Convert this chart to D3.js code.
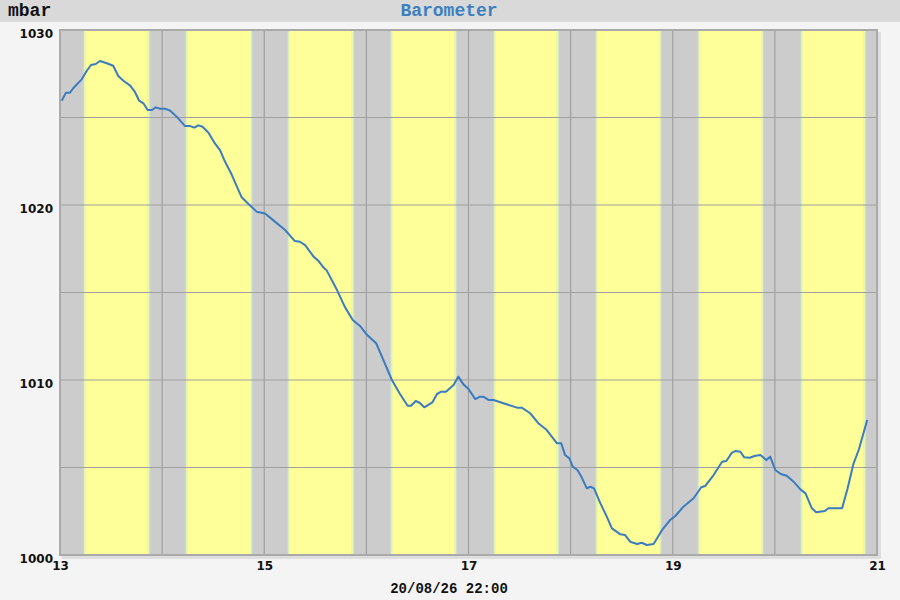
<!DOCTYPE html>
<html>
<head>
<meta charset="utf-8">
<script src="https://cdn.jsdelivr.net/npm/d3@7"></script>
<style>
  body { margin: 0; background: #f4f4f4; }
  svg { display: block; }
</style>
</head>
<body>
<svg id="chart" width="900" height="600"></svg>
<script>
// hours since 13th 00:00 and pressure readings
var hours = [0.4, 1.4, 2.35, 3.1, 5.1, 6.3, 7.3, 8.4, 9.4, 11.0, 12.5, 13.7, 14.9, 16.5, 17.6, 18.6, 19.6, 20.6, 21.6, 22.5,
  23.5, 24.7, 25.9, 27.4, 29.4, 30.6, 31.6, 32.5, 33.5, 34.9, 36.4, 37.6, 38.8, 40.4, 41.5, 42.7, 44.3, 46.2, 48.2, 50.5,
  52.9, 55.2, 56.4, 57.6, 59.6, 60.7, 61.9, 62.7, 65.1, 67.0, 68.8, 70.5, 72.2, 74.3, 76.0, 78.0, 79.9, 81.7, 82.5, 83.6,
  84.5, 85.6, 87.5, 88.6, 89.6, 90.7, 92.5, 93.6, 94.8, 95.9, 97.6, 98.7, 99.5, 100.7, 101.9, 104.2, 107.4, 108.5, 110.5, 112.4,
  114.4, 116.8, 117.8, 118.7, 119.7, 120.5, 121.6, 122.6, 123.8, 124.6, 125.5, 127.0, 128.5, 129.7, 131.7, 132.8, 134.0, 135.6, 136.7, 137.9,
  139.5, 141.5, 143.4, 144.6, 146.5, 148.9, 150.7, 151.6, 153.6, 155.6, 156.6, 157.9, 158.7, 159.9, 160.8, 162.1, 163.2, 164.6, 166.0, 166.9,
  168.1, 169.4, 170.8, 172.4, 174.0, 175.2, 176.7, 177.7, 179.7, 180.6, 183.8, 185.1, 186.5, 187.7, 189.7];
var mbar = [1025.96, 1026.42, 1026.42, 1026.67, 1027.18, 1027.67, 1028.0, 1028.06, 1028.23, 1028.1, 1027.96, 1027.37, 1027.1, 1026.82, 1026.47, 1025.96, 1025.81, 1025.43, 1025.43, 1025.58,
  1025.5, 1025.5, 1025.39, 1025.05, 1024.51, 1024.51, 1024.42, 1024.55, 1024.47, 1024.13, 1023.52, 1023.14, 1022.47, 1021.71, 1021.09, 1020.44, 1020.06, 1019.62, 1019.52, 1019.05,
  1018.57, 1017.94, 1017.9, 1017.71, 1017.05, 1016.82, 1016.44, 1016.25, 1015.14, 1014.15, 1013.43, 1013.09, 1012.57, 1012.1, 1011.14, 1010.0, 1009.2, 1008.53, 1008.53, 1008.8,
  1008.7, 1008.44, 1008.72, 1009.2, 1009.33, 1009.33, 1009.71, 1010.19, 1009.75, 1009.52, 1008.91, 1009.05, 1009.05, 1008.86, 1008.86, 1008.67, 1008.42, 1008.42, 1008.1, 1007.53,
  1007.14, 1006.38, 1006.38, 1005.71, 1005.52, 1005.05, 1004.86, 1004.44, 1003.81, 1003.9, 1003.81, 1002.95, 1002.19, 1001.52, 1001.18, 1001.14, 1000.76, 1000.63, 1000.70, 1000.57,
  1000.63, 1001.43, 1002.0, 1002.23, 1002.76, 1003.24, 1003.87, 1003.94, 1004.57, 1005.33, 1005.37, 1005.85, 1005.94, 1005.9, 1005.58, 1005.56, 1005.66, 1005.71, 1005.43, 1005.62,
  1004.86, 1004.63, 1004.53, 1004.19, 1003.75, 1003.52, 1002.67, 1002.44, 1002.51, 1002.67, 1002.67, 1003.81, 1005.24, 1006.0, 1007.71];

// daylight per day (hour of day)
var days = [13, 14, 15, 16, 17, 18, 19, 20];
var sunrise = [5.64, 5.62, 5.66, 5.81, 6.02, 5.99, 6.04, 6.18];
var sunset = [20.99, 21.06, 20.94, 21.08, 21.13, 21.2, 21.18, 21.23];

var yLabels = [1000, 1010, 1020, 1030];
var yGrid = [1005, 1015, 1025];
var xLabels = [13, 15, 17, 19, 21];
var title = "Barometer";
var unit = "mbar";
var stamp = "20/08/26 22:00";

var margin = {left: 60, right: 23, top: 30, bottom: 45};
var width = 900 - margin.left - margin.right;
var height = 600 - margin.top - margin.bottom;

var svg = d3.select("#chart");

// title bar
svg.append("rect").attr("x", 0).attr("y", 0).attr("width", 900).attr("height", 22).attr("fill", "#d9d9d9");
svg.append("text").attr("x", 8).attr("y", 16)
  .style("font-family", "'Liberation Mono', monospace").style("font-weight", "bold").style("font-size", "18px")
  .attr("fill", "#111").text(unit);
svg.append("text").attr("x", 449).attr("y", 16).attr("text-anchor", "middle")
  .style("font-family", "'Liberation Mono', monospace").style("font-weight", "bold").style("font-size", "18px")
  .attr("fill", "#3d80bd").text(title);

var defs = svg.append("defs");
function edge(id, from, to) {
  var g = defs.append("linearGradient").attr("id", id);
  g.append("stop").attr("offset", "0").attr("stop-color", from);
  g.append("stop").attr("offset", "0.35").attr("stop-color", from === "#cccccc" ? "#c4dcd4" : "#e4f4b0");
  g.append("stop").attr("offset", "0.65").attr("stop-color", from === "#cccccc" ? "#e4f4b0" : "#c4dcd4");
  g.append("stop").attr("offset", "1").attr("stop-color", to);
}
edge("dawn", "#cccccc", "#ffff99");
edge("dusk", "#ffff99", "#cccccc");

var x = d3.scaleLinear().domain([13, 21]).range([0, width]);
var y = d3.scaleLinear().domain([1000, 1030]).range([height, 0]);

// shadow + plot background
svg.append("rect").attr("x", margin.left + 2).attr("y", margin.top + 2)
  .attr("width", width + 2).attr("height", height + 2).attr("fill", "#dedede");

var plot = svg.append("g").attr("transform", "translate(" + margin.left + "," + margin.top + ")");
plot.append("rect").attr("width", width).attr("height", height).attr("fill", "#cccccc");

var tw = 0.8 / 24; // twilight width in days
var bands = plot.append("g");
days.forEach(function (d, i) {
  var r = d + sunrise[i] / 24, s = d + sunset[i] / 24;
  bands.append("rect").attr("x", x(r - tw / 2)).attr("y", 0)
    .attr("width", x(r + tw / 2) - x(r - tw / 2)).attr("height", height).attr("fill", "url(#dawn)");
  bands.append("rect").attr("x", x(r + tw / 2)).attr("y", 0)
    .attr("width", x(s - tw / 2) - x(r + tw / 2)).attr("height", height).attr("fill", "#ffff99");
  bands.append("rect").attr("x", x(s - tw / 2)).attr("y", 0)
    .attr("width", x(s + tw / 2) - x(s - tw / 2)).attr("height", height).attr("fill", "url(#dusk)");
});

// grid
var grid = plot.append("g").attr("stroke", "#a0a0a0").attr("stroke-width", 1.2);
d3.range(14, 21).forEach(function (d) {
  grid.append("line").attr("x1", x(d)).attr("x2", x(d)).attr("y1", 0).attr("y2", height);
});
yGrid.concat([1010, 1020]).forEach(function (v) {
  grid.append("line").attr("x1", 0).attr("x2", width).attr("y1", y(v)).attr("y2", y(v));
});

// frame
plot.append("rect").attr("width", width).attr("height", height)
  .attr("fill", "none").attr("stroke", "#aaaaaa").attr("stroke-width", 2);

// pressure line
var data = hours.map(function (h, i) { return {t: 13 + h / 24, v: mbar[i]}; });
plot.append("path")
  .datum(data)
  .attr("fill", "none")
  .attr("stroke", "#3a7cbf")
  .attr("stroke-width", 2)
  .attr("stroke-linejoin", "round")
  .attr("d", d3.line()
    .x(function (d) { return x(d.t); })
    .y(function (d) { return y(d.v); }));

// axes labels
var tickFont = "'DejaVu Sans', sans-serif";
var yAxis = d3.axisLeft(y).tickValues(yLabels).tickFormat(d3.format("d")).tickSize(0).tickPadding(7);
var ya = plot.append("g").call(yAxis);
ya.select(".domain").remove();
ya.selectAll("text").attr("dy", "0.85em").attr("y", -3)
  .style("font-family", tickFont).style("font-size", "12px").style("font-weight", "bold").attr("fill", "#111");

var xAxis = d3.axisBottom(x).tickValues(xLabels).tickFormat(d3.format("d")).tickSize(0).tickPadding(6);
var xa = plot.append("g").attr("transform", "translate(0," + height + ")").call(xAxis);
xa.select(".domain").remove();
xa.selectAll("text")
  .style("font-family", tickFont).style("font-size", "12px").style("font-weight", "bold").attr("fill", "#111");

svg.append("text").attr("x", 449).attr("y", 593).attr("text-anchor", "middle")
  .style("font-family", "'Liberation Mono', monospace").style("font-weight", "bold").style("font-size", "14px")
  .attr("fill", "#111").text(stamp);
</script>
</body>
</html>
